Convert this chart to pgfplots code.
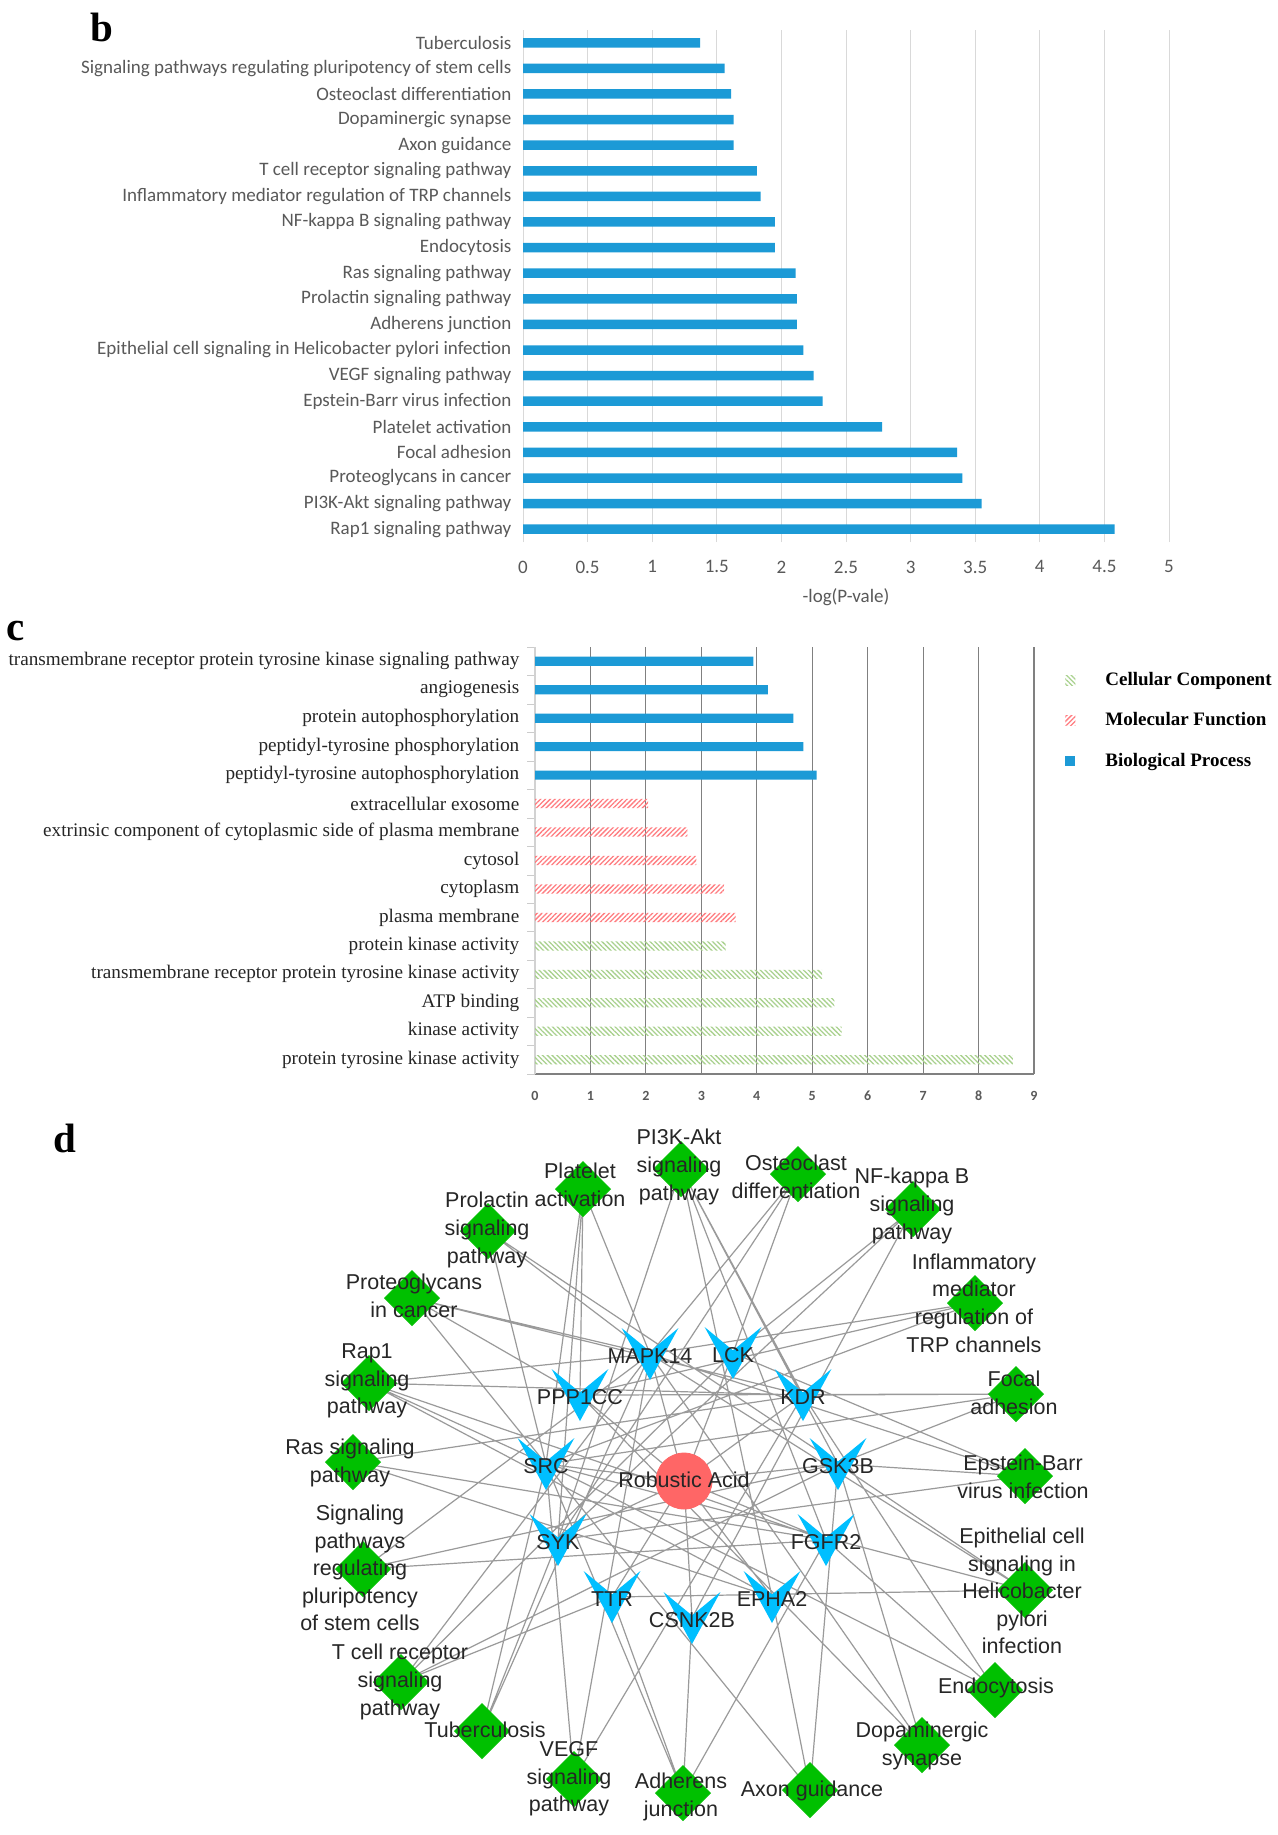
\documentclass[border=0pt]{standalone}
\usepackage{fontspec}
\setmainfont{Liberation Serif}
\newfontfamily\calibri{Carlito}
\newfontfamily\arial{Liberation Sans}
\usepackage{pgfplots}
\pgfplotsset{compat=1.18}
\usetikzlibrary{patterns.meta}

\definecolor{xlblue}{HTML}{1C9AD6}
\definecolor{xlgray}{HTML}{595959}
\definecolor{mfred}{HTML}{FF7C80}
\definecolor{ccgreen}{HTML}{A9D18E}
\definecolor{netblue}{HTML}{00BFFF}
\definecolor{netgreen}{HTML}{00C000}
\definecolor{netred}{HTML}{FF6666}
\definecolor{edgegray}{HTML}{9A9A9A}

% target node shape (downward arrowhead)
\pgfdeclareplotmark{vee}{%
  \pgfpathmoveto{\pgfqpoint{-14.2pt}{13pt}}%
  \pgfpathlineto{\pgfqpoint{0pt}{1.3pt}}%
  \pgfpathlineto{\pgfqpoint{14.2pt}{13pt}}%
  \pgfpathlineto{\pgfqpoint{0pt}{-13pt}}%
  \pgfpathclose
  \pgfusepathqfill}

\newcommand{\netfont}{\arial\fontsize{10.75}{13.8}\selectfont}
\newcommand{\panfont}{\bfseries\fontsize{20.5}{24}\selectfont}

% the canvas axis: pixel units of the whole figure, y downwards
\pgfplotsset{canvas/.style={at={(0pt,0pt)}, anchor=north west, scale only axis,
  width=639pt, height=917.5pt, xmin=0, xmax=1278, ymin=0, ymax=1835,
  y dir=reverse, hide axis, clip=false}}

\begin{document}
\begin{tikzpicture}
\useasboundingbox (0,0) rectangle (639pt,-917.5pt);
\fill[white] (0,0) rectangle (639pt,-917.5pt);

% ---------- d: network ----------
\begin{axis}[canvas]
% edges: robustic acid to targets, then each pathway to its targets
\addplot[edgegray, line width=0.6pt, line join=round, unbounded coords=jump] coordinates {
(684,1481) (650,1354) (684,1481) (733,1353) (684,1481) (580,1395) (684,1481) (803,1395)
(684,1481) (546,1464) (684,1481) (838,1464) (684,1481) (558,1540) (684,1481) (826,1540)
(684,1481) (612,1597) (684,1481) (772,1597) (684,1481) (692,1618) (nan,nan)
(583,1189) (580,1395) (583,1189) (546,1464) (583,1189) (558,1540) (583,1189) (650,1354) (nan,nan)
(681,1169) (803,1395) (681,1169) (826,1540) (681,1169) (558,1540) (681,1169) (838,1464) (681,1169) (772,1597) (nan,nan)
(798,1174) (558,1540) (798,1174) (733,1353) (798,1174) (650,1354) (nan,nan)
(913,1209) (558,1540) (913,1209) (733,1353) (913,1209) (692,1618) (nan,nan)
(975,1303) (546,1464) (975,1303) (650,1354) (975,1303) (580,1395) (nan,nan)
(1016,1394) (803,1395) (1016,1394) (546,1464) (1016,1394) (838,1464) (1016,1394) (580,1395) (nan,nan)
(1025,1476) (558,1540) (1025,1476) (733,1353) (1025,1476) (838,1464) (1025,1476) (650,1354) (nan,nan)
(1025,1590) (546,1464) (1025,1590) (650,1354) (1025,1590) (838,1464) (1025,1590) (612,1597) (nan,nan)
(995,1690) (803,1395) (995,1690) (546,1464) (995,1690) (826,1540) (nan,nan)
(922,1745) (838,1464) (922,1745) (650,1354) (922,1745) (580,1395) (nan,nan)
(810,1790) (772,1597) (810,1790) (838,1464) (810,1790) (546,1464) (nan,nan)
(683,1793) (546,1464) (683,1793) (692,1618) (683,1793) (826,1540) (683,1793) (612,1597) (nan,nan)
(574,1779) (803,1395) (574,1779) (546,1464) (574,1779) (650,1354) (nan,nan)
(482,1731) (558,1540) (482,1731) (546,1464) (482,1731) (650,1354) (nan,nan)
(401,1682) (733,1353) (401,1682) (650,1354) (401,1682) (838,1464) (401,1682) (612,1597) (nan,nan)
(363,1569) (838,1464) (363,1569) (650,1354) (363,1569) (826,1540) (nan,nan)
(353,1462) (803,1395) (353,1462) (826,1540) (353,1462) (772,1597) (nan,nan)
(369,1383) (803,1395) (369,1383) (826,1540) (369,1383) (546,1464) (369,1383) (650,1354) (369,1383) (772,1597) (nan,nan)
(412,1298) (803,1395) (412,1298) (546,1464) (412,1298) (650,1354) (412,1298) (580,1395) (nan,nan)
(488,1231) (546,1464) (488,1231) (838,1464) (488,1231) (650,1354)
};

% compound
\addplot[only marks, mark=*, mark size=14pt, color=netred, mark options={draw=netred, fill=netred}]
  coordinates {(684,1481)};
% targets
\addplot[only marks, mark=vee, color=netblue, mark options={fill=netblue}] coordinates {
(650,1354) (733,1353) (580,1395) (803,1395) (546,1464) (838,1464)
(558,1540) (826,1540) (612,1597) (772,1597) (692,1618)};
% pathways
\addplot[only marks, mark=square*, mark size=9.7pt, color=netgreen,
  mark options={rotate=45, draw=netgreen, fill=netgreen}] coordinates {
(583,1189) (681,1169) (798,1174) (913,1209) (975,1303) (1016,1394) (1025,1476)
(1025,1590) (995,1690) (922,1745) (810,1790) (683,1793) (574,1779) (482,1731)
(401,1682) (363,1569) (353,1462) (369,1383) (412,1298) (488,1231)};
\end{axis}

% labels on top of the nodes
\begin{axis}[canvas]
\begin{scope}[every node/.style={font=\netfont, text=black!85, align=center, inner sep=0pt}]
\node at (axis cs:684,1480) {Robustic Acid};
\node at (axis cs:650,1356) {MAPK14};
\node at (axis cs:733,1355) {LCK};
\node at (axis cs:580,1397) {PPP1CC};
\node at (axis cs:803,1397) {KDR};
\node at (axis cs:546,1466) {SRC};
\node at (axis cs:838,1466) {GSK3B};
\node at (axis cs:558,1542) {SYK};
\node at (axis cs:826,1542) {FGFR2};
\node at (axis cs:612,1599) {TTR};
\node at (axis cs:772,1599) {EPHA2};
\node at (axis cs:692,1620) {CSNK2B};
\node at (axis cs:580,1185) {Platelet\\activation};
\node at (axis cs:679,1167) {PI3K-Akt\\signaling\\pathway};
\node at (axis cs:796,1177) {Osteoclast\\differentiation};
\node at (axis cs:912,1206) {NF-kappa B\\signaling\\pathway};
\node at (axis cs:974,1303) {Inflammatory\\mediator\\regulation of\\TRP channels};
\node at (axis cs:1014,1393) {Focal\\adhesion};
\node at (axis cs:1023,1477) {Epstein-Barr\\virus infection};
\node at (axis cs:1022,1591) {Epithelial cell\\signaling in\\Helicobacter\\pylori\\infection};
\node at (axis cs:996,1688) {Endocytosis};
\node at (axis cs:922,1746) {Dopaminergic\\synapse};
\node at (axis cs:812,1791) {Axon guidance};
\node at (axis cs:681,1797) {Adherens\\junction};
\node at (axis cs:569,1779) {VEGF\\signaling\\pathway};
\node at (axis cs:485,1730) {Tuberculosis};
\node at (axis cs:400,1682) {T cell receptor\\signaling\\pathway};
\node at (axis cs:360,1568) {Signaling\\pathways\\regulating\\pluripotency\\of stem cells};
\node at (axis cs:350,1463) {Ras signaling\\pathway};
\node at (axis cs:367,1381) {Rap1\\signaling\\pathway};
\node at (axis cs:414,1296) {Proteoglycans\\in cancer};
\node at (axis cs:487,1230) {Prolactin\\signaling\\pathway};
\end{scope}
\node[font=\panfont] at (axis cs:102,27) {b};
\node[font=\panfont] at (axis cs:16,631) {c};
\node[font=\panfont] at (axis cs:65,1138) {d};
\end{axis}

% ---------- b: KEGG pathways ----------
\begin{axis}[at={(261.5pt,-271pt)}, anchor=south west, scale only axis,
  width=323pt, height=256pt,
  xbar, bar width=4.75pt, bar shift=0pt,
  xmin=0, xmax=5, ymin=-0.5, ymax=19.5,
  xtick={0,0.5,...,5}, ytick={0,...,19},
  yticklabels={Rap1 signaling pathway, PI3K-Akt signaling pathway, Proteoglycans in cancer,
    Focal adhesion, Platelet activation, Epstein-Barr virus infection, VEGF signaling pathway,
    Epithelial cell signaling in Helicobacter pylori infection, Adherens junction,
    Prolactin signaling pathway, Ras signaling pathway, Endocytosis, NF-kappa B signaling pathway,
    Inflammatory mediator regulation of TRP channels, T cell receptor signaling pathway,
    Axon guidance, Dopaminergic synapse, Osteoclast differentiation,
    Signaling pathways regulating pluripotency of stem cells, Tuberculosis},
  xmajorgrids, grid style={gray!30, line width=0.5pt},
  axis line style={draw=none}, major tick length=0pt,
  tick label style={font=\calibri\fontsize{9.5}{11}\selectfont, text=xlgray},
  xticklabel style={yshift=-5.8pt},
  yticklabel style={xshift=-2.3pt},
  /pgf/number format/assume math mode=true,
  xlabel={-log(P-vale)},
  xlabel style={font=\calibri\fontsize{9.5}{11}\selectfont, text=xlgray,
    at={(axis description cs:0.5,0)}, anchor=center, yshift=-27.5pt},
  ]
\addplot[fill=xlblue, draw=none] coordinates {
(4.58,0) (3.55,1) (3.40,2) (3.36,3) (2.78,4) (2.32,5) (2.25,6) (2.17,7) (2.12,8) (2.12,9)
(2.11,10) (1.95,11) (1.95,12) (1.84,13) (1.81,14) (1.63,15) (1.63,16) (1.61,17) (1.56,18) (1.37,19)};
\end{axis}

% ---------- c: GO terms ----------
\begin{axis}[at={(267.5pt,-537pt)}, anchor=south west, scale only axis,
  width=249.5pt, height=213.5pt,
  xbar, bar width=4.6pt, bar shift=0pt,
  xmin=0, xmax=9, ymin=-0.5, ymax=14.5,
  xtick={1,...,9}, extra x ticks={0}, extra x tick style={grid=none},
  xmajorgrids, grid style={draw=gray, line width=0.6pt},
  axis x line*=bottom, axis y line*=left,
  x axis line style={-, draw=gray, line width=0.6pt},
  y axis line style={-, draw=gray!35, line width=0.6pt},
  ytick={0,...,14},
  yticklabels={protein tyrosine kinase activity, kinase activity, ATP binding,
    transmembrane receptor protein tyrosine kinase activity, protein kinase activity,
    plasma membrane, cytoplasm, cytosol,
    extrinsic component of cytoplasmic side of plasma membrane, extracellular exosome,
    peptidyl-tyrosine autophosphorylation, peptidyl-tyrosine phosphorylation,
    protein autophosphorylation, angiogenesis,
    transmembrane receptor protein tyrosine kinase signaling pathway},
  major tick length=0pt,
  minor ytick={-0.5,0.5,...,14.5}, minor tick length=4pt, tick align=outside,
  minor tick style={draw=gray!40},
  yticklabel style={font=\fontsize{9.6}{11}\selectfont, text=black!85, xshift=-4.3pt},
  xticklabel style={font=\calibri\bfseries\fontsize{7}{8}\selectfont, text=xlgray, yshift=-5pt},
  /pgf/number format/assume math mode=true,
  legend style={at={(axis description cs:1.05,0.96)}, anchor=north west, draw=none, fill=none,
    font=\bfseries\fontsize{9.5}{11}\selectfont, row sep=8pt,
    /tikz/every odd column/.append style={column sep=13pt}},
  legend cell align=left,
  legend image code/.code={\path[#1, draw=none] (0pt,-2.5pt) rectangle (5pt,2.5pt);},
  ]
\addplot[draw=none, pattern={Lines[angle=-45,distance=1.7pt,line width=0.65pt]}, pattern color=ccgreen]
  coordinates {(8.62,0) (5.53,1) (5.40,2) (5.18,3) (3.44,4)};
\addplot[draw=none, pattern={Lines[angle=45,distance=1.7pt,line width=0.65pt]}, pattern color=mfred]
  coordinates {(3.62,5) (3.41,6) (2.91,7) (2.75,8) (2.04,9)};
\addplot[draw=none, fill=xlblue]
  coordinates {(5.08,10) (4.84,11) (4.66,12) (4.20,13) (3.94,14)};
\legend{Cellular Component, Molecular Function, Biological Process}
\end{axis}
\end{tikzpicture}
\end{document}
